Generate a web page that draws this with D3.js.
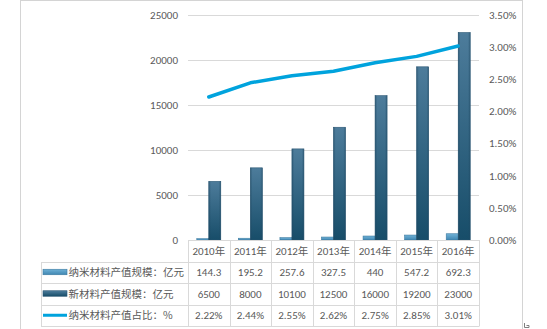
<!DOCTYPE html>
<html>
<head>
<meta charset="utf-8">
<script src="https://cdn.jsdelivr.net/npm/d3@7/dist/d3.min.js"></script>
<style>
  html, body { margin: 0; padding: 0; background: #fff; }
  svg { display: block; }
  .num { font-family: Carlito, Lato, "Noto Sans", sans-serif; }
  .cjk { font-family: "Noto Sans CJK SC", sans-serif; }
</style>
</head>
<body>
<svg id="chart" width="547" height="329"></svg>
<script>
// Output of nano materials vs. all new materials (亿元) and nano share (%)
const years = ["2010年", "2011年", "2012年", "2013年", "2014年", "2015年", "2016年"];
const nanoValues = [144.3, 195.2, 257.6, 327.5, 440, 547.2, 692.3];
const newMaterialValues = [6500, 8000, 10100, 12500, 16000, 19200, 23000];
const nanoShare = [2.22, 2.44, 2.55, 2.62, 2.75, 2.85, 3.01];
const leftTicks = [0, 5000, 10000, 15000, 20000, 25000];
const rightTicks = [0, 0.5, 1.0, 1.5, 2.0, 2.5, 3.0, 3.5];
const seriesNames = ["纳米材料产值规模：亿元", "新材料产值规模：亿元", "纳米材料产值占比：%"];

const svg = d3.select("#chart");
const plot = { left: 188, right: 479, top: 14.5, bottom: 240 };
const gridColor = "#d9d9d9";
const textColor = "#595959";

// Outer frame
svg.append("rect")
  .attr("x", 20.5).attr("y", 0.5)
  .attr("width", 502).attr("height", 340)
  .attr("fill", "none").attr("stroke", "#d4d4d4");

// Small corner mark at bottom right
svg.append("path")
  .attr("d", "M524.5,323 L524.5,327.5 L529,327.5 M526.5,325.5 L529,325.5 L529,327.5")
  .attr("fill", "none").attr("stroke", "#7f7f7f").attr("stroke-width", 1);

const x = d3.scaleBand().domain(years).range([plot.left, plot.right]).paddingInner(0).paddingOuter(0);
const y = d3.scaleLinear().domain([0, 25000]).range([plot.bottom, plot.top]);
const yR = d3.scaleLinear().domain([0, 3.5]).range([plot.bottom, plot.top]);

// Gridlines
svg.append("g")
  .selectAll("line")
  .data(leftTicks.filter(d => d > 0))
  .join("line")
  .attr("x1", plot.left).attr("x2", plot.right)
  .attr("y1", d => Math.round(y(d)) + 0.5).attr("y2", d => Math.round(y(d)) + 0.5)
  .attr("stroke", gridColor).attr("stroke-width", 1);

// Left axis
const leftAxis = svg.append("g")
  .attr("transform", `translate(${plot.left - 10},0)`)
  .call(d3.axisLeft(y).tickValues(leftTicks).tickSize(0).tickPadding(0).tickFormat(d3.format("d")));
leftAxis.select(".domain").remove();
leftAxis.selectAll("text")
  .attr("class", "num").attr("fill", textColor).style("font-size", "11px");

// Right axis
const rightAxis = svg.append("g")
  .attr("transform", `translate(${plot.right + 10},0)`)
  .call(d3.axisRight(yR).tickValues(rightTicks).tickSize(0).tickPadding(0).tickFormat(d => d3.format(".2f")(d) + "%"));
rightAxis.select(".domain").remove();
rightAxis.selectAll("text")
  .attr("class", "num").attr("fill", textColor).style("font-size", "11px");

// Gradients for the bars
const defs = svg.append("defs");
const gDark = defs.append("linearGradient").attr("id", "gradDark").attr("x1", 0).attr("y1", 0).attr("x2", 0).attr("y2", 1);
gDark.append("stop").attr("offset", "0%").attr("stop-color", "#4d7c9b");
gDark.append("stop").attr("offset", "100%").attr("stop-color", "#174d69");
const gDarkH = defs.append("linearGradient").attr("id", "gradDarkH").attr("x1", 0).attr("y1", 0).attr("x2", 1).attr("y2", 0);
gDarkH.append("stop").attr("offset", "0%").attr("stop-color", "#1d4660").attr("stop-opacity", 0.55);
gDarkH.append("stop").attr("offset", "18%").attr("stop-color", "#1d4660").attr("stop-opacity", 0);
gDarkH.append("stop").attr("offset", "82%").attr("stop-color", "#1d4660").attr("stop-opacity", 0);
gDarkH.append("stop").attr("offset", "100%").attr("stop-color", "#1d4660").attr("stop-opacity", 0.5);
const gLight = defs.append("linearGradient").attr("id", "gradLight").attr("x1", 0).attr("y1", 0).attr("x2", 0).attr("y2", 1);
gLight.append("stop").attr("offset", "0%").attr("stop-color", "#6fb1d6");
gLight.append("stop").attr("offset", "100%").attr("stop-color", "#3f86b2");

const barW = 12;
const cx = d => x(d) + x.bandwidth() / 2;

// Nano material bars
svg.append("g")
  .selectAll("rect")
  .data(years.map((yr, i) => ({ yr, v: nanoValues[i] })))
  .join("rect")
  .attr("x", d => cx(d.yr) - barW)
  .attr("y", d => y(d.v))
  .attr("width", barW)
  .attr("height", d => y(0) - y(d.v))
  .attr("fill", "url(#gradLight)")
  .attr("stroke", "#3c7aa0").attr("stroke-width", 0.6);

// New material bars
const darkG = svg.append("g");
const darkData = years.map((yr, i) => ({ yr, v: newMaterialValues[i] }));
darkG.selectAll("rect.fill")
  .data(darkData)
  .join("rect")
  .attr("class", "fill")
  .attr("x", d => cx(d.yr))
  .attr("y", d => y(d.v))
  .attr("width", barW)
  .attr("height", d => y(0) - y(d.v))
  .attr("fill", "url(#gradDark)")
  .attr("stroke", "#2a5673").attr("stroke-width", 0.6);
darkG.selectAll("rect.shade")
  .data(darkData)
  .join("rect")
  .attr("class", "shade")
  .attr("x", d => cx(d.yr))
  .attr("y", d => y(d.v))
  .attr("width", barW)
  .attr("height", d => y(0) - y(d.v))
  .attr("fill", "url(#gradDarkH)");

// Share line
const line = d3.line()
  .x((d, i) => cx(years[i]))
  .y(d => yR(d));
svg.append("path")
  .datum(nanoShare)
  .attr("d", line)
  .attr("fill", "none")
  .attr("stroke", "#00a3dd")
  .attr("stroke-width", 3.5)
  .attr("stroke-linecap", "round")
  .attr("stroke-linejoin", "round");

// Data table below the plot
const rowH = 21.5;
const rows = [plot.bottom, plot.bottom + rowH, plot.bottom + 2 * rowH, plot.bottom + 3 * rowH, plot.bottom + 4 * rowH];
const tableLeft = 41;
const table = svg.append("g");

// Horizontal rules
table.append("line")
  .attr("x1", plot.left).attr("x2", plot.right)
  .attr("y1", rows[0] + 0.5).attr("y2", rows[0] + 0.5)
  .attr("stroke", gridColor);
table.selectAll("line.h")
  .data(rows.slice(1))
  .join("line")
  .attr("class", "h")
  .attr("x1", tableLeft).attr("x2", plot.right)
  .attr("y1", d => Math.round(d) + 0.5).attr("y2", d => Math.round(d) + 0.5)
  .attr("stroke", gridColor);

// Vertical rules
const colEdges = years.map(yr => x(yr)).concat([plot.right]);
table.selectAll("line.v")
  .data(colEdges)
  .join("line")
  .attr("class", "v")
  .attr("x1", d => Math.round(d) + 0.5).attr("x2", d => Math.round(d) + 0.5)
  .attr("y1", rows[0]).attr("y2", Math.round(rows[4]) + 0.5)
  .attr("stroke", gridColor);
table.append("line")
  .attr("x1", tableLeft + 0.5).attr("x2", tableLeft + 0.5)
  .attr("y1", Math.round(rows[1]) + 0.5).attr("y2", Math.round(rows[4]) + 0.5)
  .attr("stroke", gridColor);

// Header row: years
table.selectAll("text.year")
  .data(years)
  .join("text")
  .attr("class", "year")
  .attr("x", d => cx(d))
  .attr("y", rows[0] + rowH / 2 + 4)
  .attr("text-anchor", "middle")
  .attr("fill", textColor)
  .style("font-size", "11px")
  .each(function (d) {
    const t = d3.select(this);
    t.append("tspan").attr("class", "num").text(d.replace("年", ""));
    t.append("tspan").attr("class", "cjk").style("font-size", "10.5px").text("年");
  });

// Value rows
const fmtPct = d => d.toFixed(2) + "%";
const rowData = [
  nanoValues.map(v => String(v)),
  newMaterialValues.map(v => String(v)),
  nanoShare.map(fmtPct)
];
rowData.forEach((vals, r) => {
  table.selectAll(`text.r${r}`)
    .data(vals)
    .join("text")
    .attr("class", `num r${r}`)
    .attr("x", (d, i) => cx(years[i]))
    .attr("y", rows[r + 1] + rowH / 2 + 4)
    .attr("text-anchor", "middle")
    .attr("fill", textColor)
    .style("font-size", "11px")
    .text(d => d);
});

// Legend keys and series names
const keyX = 43, keyW = 24;
const rowMid = r => rows[r + 1] + rowH / 2;
table.append("rect")
  .attr("x", keyX).attr("y", rowMid(0) - 3).attr("width", keyW).attr("height", 5.5)
  .attr("fill", "url(#gradLight)").attr("stroke", "#3c7aa0").attr("stroke-width", 0.6);
table.append("rect")
  .attr("x", keyX).attr("y", rowMid(1) - 3).attr("width", keyW).attr("height", 5.5)
  .attr("fill", "url(#gradDark)").attr("stroke", "#2a5673").attr("stroke-width", 0.6);
table.append("line")
  .attr("x1", keyX).attr("x2", keyX + keyW)
  .attr("y1", rowMid(2)).attr("y2", rowMid(2))
  .attr("stroke", "#00a3dd").attr("stroke-width", 3);

table.selectAll("text.series")
  .data(seriesNames)
  .join("text")
  .attr("class", "series cjk")
  .attr("x", keyX + keyW + 1.5)
  .attr("y", (d, i) => rowMid(i) + 4)
  .attr("fill", textColor)
  .style("font-size", "10.5px")
  .text(d => d);
</script>
</body>
</html>
